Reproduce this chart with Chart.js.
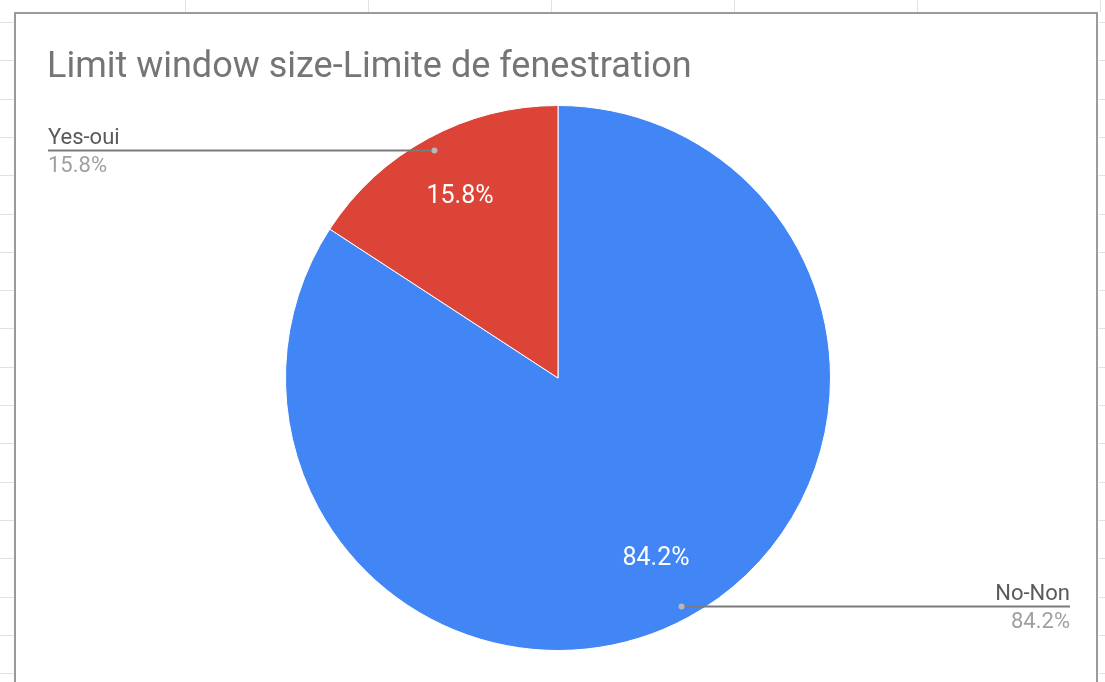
<!DOCTYPE html>
<html>
<head>
<meta charset="utf-8">
<script src="https://cdn.jsdelivr.net/npm/chart.js@4/dist/chart.umd.min.js"></script>
<style>
  html, body { margin: 0; padding: 0; background: #ffffff; width: 1105px; height: 682px; overflow: hidden; }
  #wrap { position: absolute; left: 0; top: 0; width: 1105px; height: 682px; }
</style>
</head>
<body>
<div id="wrap"><canvas id="c" width="1105" height="682"></canvas></div>
<script>
const titleText = 'Limit window size-Limite de fenestration';
const categories = ['No-Non', 'Yes-oui'];
const seriesValues = [84.2, 15.8];
const sliceColors = ['#4285F4', '#DB4437'];

const FONT = 'Roboto, "Noto Sans", Arial, sans-serif';

const frame = {
  id: 'frame',
  beforeDraw(chart) {
    const ctx = chart.ctx;
    ctx.save();
    ctx.fillStyle = '#ffffff';
    ctx.fillRect(0, 0, chart.width, chart.height);
    // faint spreadsheet grid outside the chart box
    ctx.strokeStyle = '#e2e2e2';
    ctx.lineWidth = 1;
    for (let x = 185; x < chart.width; x += 183) {
      ctx.beginPath(); ctx.moveTo(x + 0.5, 0); ctx.lineTo(x + 0.5, 12); ctx.stroke();
    }
    for (let y = 22; y < chart.height; y += 38.3) {
      const yy = Math.round(y) + 0.5;
      ctx.beginPath(); ctx.moveTo(0, yy); ctx.lineTo(14, yy); ctx.stroke();
      ctx.beginPath(); ctx.moveTo(1099, yy); ctx.lineTo(1105, yy); ctx.stroke();
    }
    // chart box border
    ctx.strokeStyle = '#9a9a9a';
    ctx.lineWidth = 2;
    ctx.beginPath();
    ctx.moveTo(15, 700); ctx.lineTo(15, 13); ctx.lineTo(1097, 13); ctx.lineTo(1097, 700);
    ctx.stroke();
    // title
    ctx.fillStyle = '#757575';
    ctx.font = '36px ' + FONT;
    ctx.textBaseline = 'alphabetic';
    ctx.textAlign = 'left';
    ctx.fillText(titleText, 47, 77);
    ctx.restore();
  }
};

const sliceLabels = {
  id: 'sliceLabels',
  afterDatasetsDraw(chart) {
    const ctx = chart.ctx;
    const meta = chart.getDatasetMeta(0);
    const data = chart.data.datasets[0].data;
    const total = data.reduce((a, b) => a + b, 0);
    ctx.save();
    meta.data.forEach((arc, i) => {
      const p = arc.getProps(['x', 'y', 'startAngle', 'endAngle', 'outerRadius'], true);
      const mid = (p.startAngle + p.endAngle) / 2;
      const r = p.outerRadius;
      const pct = (data[i] / total * 100).toFixed(1) + '%';
      // inner label
      const ix = p.x + Math.cos(mid) * r * 0.755;
      const iy = p.y + Math.sin(mid) * r * 0.755;
      ctx.fillStyle = '#ffffff';
      ctx.font = '25px ' + FONT;
      ctx.textAlign = 'center';
      ctx.textBaseline = 'middle';
      ctx.fillText(pct, ix, iy);
      // leader line
      const dx = p.x + Math.cos(mid) * r * 0.952;
      const dy = Math.round(p.y + Math.sin(mid) * r * 0.952) + 0.5;
      const left = Math.cos(mid) < 0;
      const ex = left ? 48 : 1070;
      ctx.strokeStyle = '#7a7a7a';
      ctx.lineWidth = 2;
      ctx.beginPath(); ctx.moveTo(dx, dy); ctx.lineTo(ex, dy); ctx.stroke();
      ctx.fillStyle = '#b8b8b8';
      ctx.beginPath(); ctx.arc(dx, dy, 3, 0, Math.PI * 2); ctx.fill();
      // outside labels
      ctx.textAlign = left ? 'left' : 'right';
      ctx.textBaseline = 'alphabetic';
      ctx.font = '22px ' + FONT;
      ctx.fillStyle = '#5a5a5a';
      ctx.fillText(chart.data.labels[i], ex, dy - 7);
      ctx.fillStyle = '#a0a0a0';
      ctx.fillText(pct, ex, dy + 21);
    });
    ctx.restore();
  }
};

new Chart(document.getElementById('c'), {
  type: 'pie',
  data: {
    labels: categories,
    datasets: [{
      data: seriesValues,
      backgroundColor: sliceColors,
      borderColor: '#ffffff',
      borderWidth: 1
    }]
  },
  options: {
    responsive: false,
    animation: false,
    layout: { padding: { left: 285, right: 274, top: 105, bottom: 31 } },
    plugins: {
      legend: { display: false },
      tooltip: { enabled: false },
      title: { display: false }
    }
  },
  plugins: [frame, sliceLabels]
});
</script>
</body>
</html>
